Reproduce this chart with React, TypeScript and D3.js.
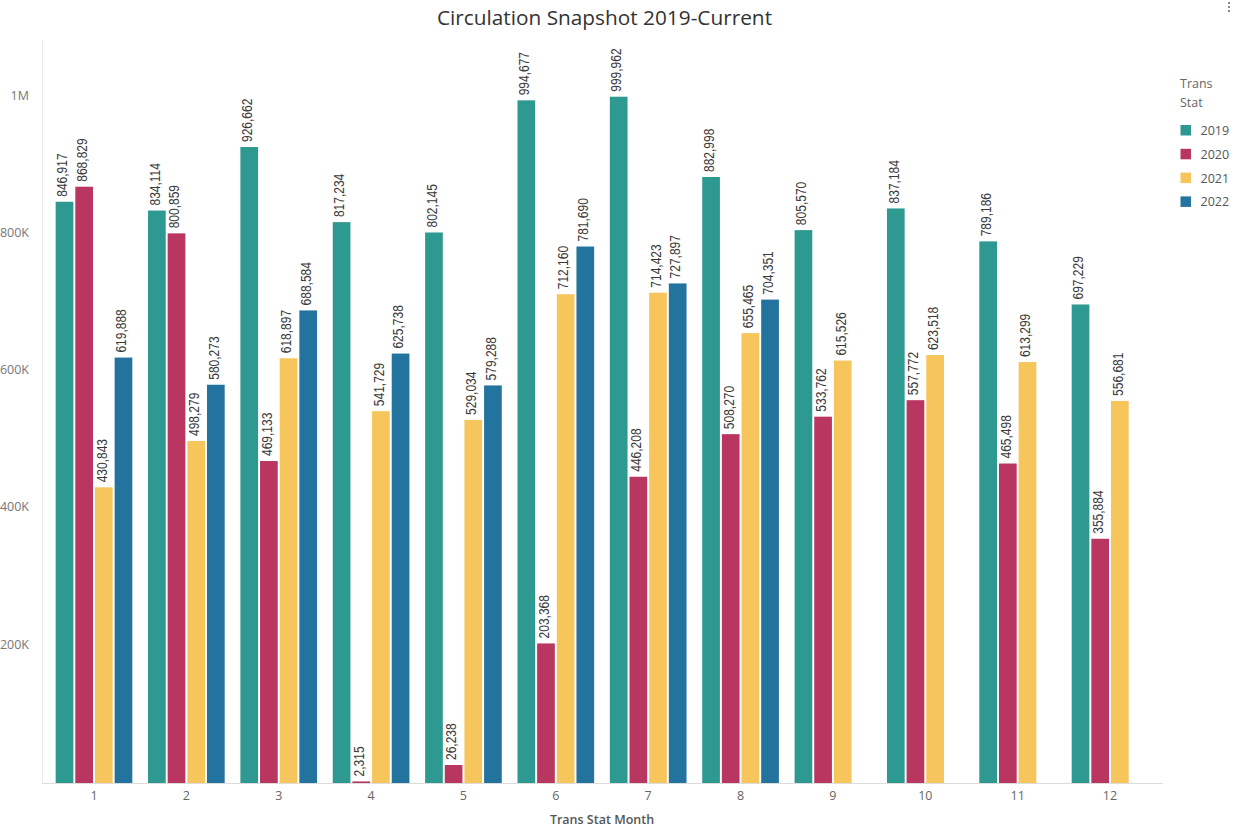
import React, { useEffect } from "react";
import * as d3 from "d3";

// Monthly circulation totals per year
const months = ["1", "2", "3", "4", "5", "6", "7", "8", "9", "10", "11", "12"];
const years = ["2019", "2020", "2021", "2022"];
const values2019 = [846917, 834114, 926662, 817234, 802145, 994677, 999962, 882998, 805570, 837184, 789186, 697229];
const values2020 = [868829, 800859, 469133, 2315, 26238, 203368, 446208, 508270, 533762, 557772, 465498, 355884];
const values2021 = [430843, 498279, 618897, 541729, 529034, 712160, 714423, 655465, 615526, 623518, 613299, 556681];
const values2022: (number | null)[] = [619888, 580273, 688584, 625738, 579288, 781690, 727897, 704351, null, null, null, null];
const yTicks = [200000, 400000, 600000, 800000, 1000000];
const yTickLabels = ["200K", "400K", "600K", "800K", "1M"];
const seriesColors = ["#2e9991", "#b8365f", "#f6c55b", "#22739e"];

const series = [values2019, values2020, values2021, values2022];

const W = 1241;
const H = 834;
const fmt = d3.format(",");

export default function App() {
  useEffect(() => {
    document.body.style.margin = "0";
  }, []);

  const y = d3.scaleLinear().domain([0, 1082600]).range([783, 40]);
  const x0 = d3
    .scaleBand<string>()
    .domain(months)
    .range([47.8, 1156.2])
    .paddingInner(0.17)
    .paddingOuter(0.085);
  const x1 = d3.scaleBand<string>().domain(years).range([0, x0.bandwidth()]).paddingInner(0.1);

  const sans = "'Open Sans', 'Noto Sans', sans-serif";
  const labelFont = "'Liberation Sans', Arial, sans-serif";

  return (
    <svg width={W} height={H} style={{ display: "block", background: "#fff" }}>
      {/* title */}
      <text x={604.5} y={25} textAnchor="middle" fontFamily={sans} fontSize={20.8} fill="#333">
        Circulation Snapshot 2019-Current
      </text>

      {/* overflow menu glyph */}
      <g fill="#888">
        {[3, 7, 11].map((cy) => (
          <rect key={cy} x={1228} y={cy - 1} width={2} height={2} />
        ))}
      </g>

      {/* axes lines */}
      <line x1={42.5} x2={42.5} y1={40} y2={783} stroke="#eaeaea" />
      <line x1={42} x2={1163} y1={783.5} y2={783.5} stroke="#dcdcdc" />

      {/* y tick labels */}
      {yTicks.map((t, i) => (
        <text
          key={t}
          x={29}
          y={y(t) - 1.5}
          textAnchor="end"
          dominantBaseline="central"
          fontFamily={sans}
          fontSize={12.5}
          fill="#777"
        >
          {yTickLabels[i]}
        </text>
      ))}

      {/* bars */}
      {months.map((m, mi) => (
        <g key={m} transform={`translate(${x0(m)},0)`}>
          {years.map((yr, si) => {
            const v = series[si][mi];
            if (v == null) return null;
            const bx = x1(yr)!;
            const bw = x1.bandwidth();
            const top = y(v);
            return (
              <g key={yr}>
                <rect x={bx} y={top} width={bw} height={y(0) - top} fill={seriesColors[si]} />
                <text
                  transform={`translate(${bx + bw / 2 - 2},${top - 5}) rotate(-90) scale(1,1.15)`}
                  dominantBaseline="central"
                  fontFamily={labelFont}
                  fontSize={12}
                  fill="#3a3a3a"
                >
                  {fmt(v)}
                </text>
              </g>
            );
          })}
        </g>
      ))}

      {/* x tick labels */}
      {months.map((m) => (
        <text
          key={m}
          x={x0(m)! + x0.bandwidth() / 2}
          y={795}
          textAnchor="middle"
          dominantBaseline="central"
          fontFamily={sans}
          fontSize={12.5}
          fill="#666"
        >
          {m}
        </text>
      ))}

      {/* x axis title */}
      <text x={602} y={824} textAnchor="middle" fontFamily={sans} fontSize={12.5} fontWeight={600} fill="#555">
        Trans Stat Month
      </text>

      {/* legend */}
      <g fontFamily={sans} fontSize={12.5}>
        <text x={1180} y={88} fill="#666">Trans</text>
        <text x={1180} y={107} fill="#666">Stat</text>
        {years.map((yr, i) => (
          <g key={yr} transform={`translate(1180.5,${125 + i * 23.8})`}>
            <rect width={10.5} height={10.5} fill={seriesColors[i]} />
            <text x={20} y={5.5} dominantBaseline="central" fill="#555">
              {yr}
            </text>
          </g>
        ))}
      </g>
    </svg>
  );
}
